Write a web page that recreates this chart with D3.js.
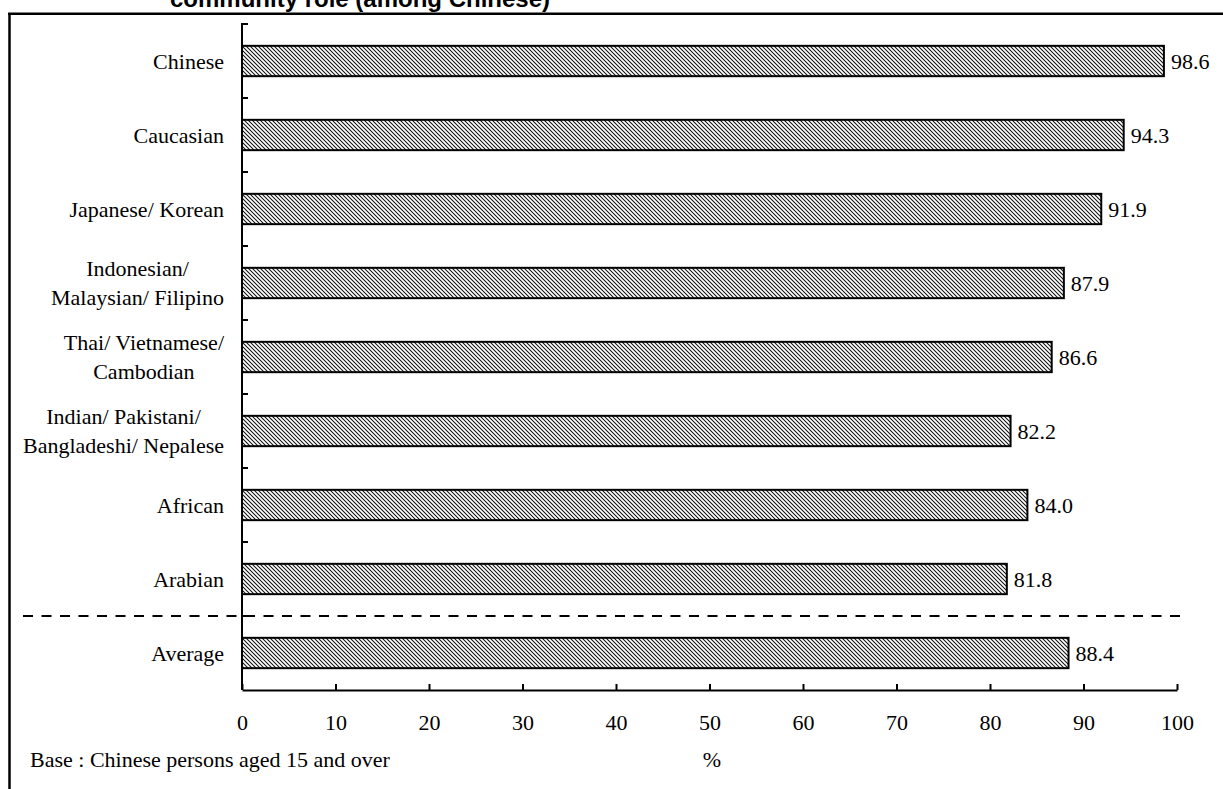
<!DOCTYPE html>
<html>
<head>
<meta charset="utf-8">
<script src="https://cdn.jsdelivr.net/npm/d3@7"></script>
<style>
  html, body { margin: 0; padding: 0; background: #fff; }
  svg { display: block; }
</style>
</head>
<body>
<svg id="chart" width="1223" height="789"></svg>
<script>
// Group labels (each entry is a list of text lines) and their shares in percent
const categories = [
  ["Chinese"],
  ["Caucasian"],
  ["Japanese/ Korean"],
  ["Indonesian/", "Malaysian/ Filipino"],
  ["Thai/ Vietnamese/", "Cambodian"],
  ["Indian/ Pakistani/", "Bangladeshi/ Nepalese"],
  ["African"],
  ["Arabian"],
  ["Average"]
];
const values = [98.6, 94.3, 91.9, 87.9, 86.6, 82.2, 84.0, 81.8, 88.4];
const xTicks = [0, 10, 20, 30, 40, 50, 60, 70, 80, 90, 100];
const titleText = "community role (among Chinese)";
const baseNote = "Base : Chinese persons aged 15 and over";
const unitLabel = "%";

const keys = categories.map(c => c.join(" "));
const rows = keys.map((k, i) => ({ key: k, lines: categories[i], value: values[i] }));

const svg = d3.select("#chart");
const serif = "'Liberation Serif', 'Times New Roman', serif";

const plotLeft = 242, plotRight = 1177, plotTop = 24, plotBottom = 690;

const x = d3.scaleLinear().domain([0, 100]).range([plotLeft, plotRight]);
// bands for the bars, and plain slots for the category separators
const y = d3.scaleBand().domain(keys).range([plotTop, plotBottom]).paddingInner(0.59).paddingOuter(0.295);
const slot = d3.scaleBand().domain(keys).range([plotTop, plotBottom]).padding(0);

// hatch fill
const defs = svg.append("defs");
defs.append("pattern")
  .attr("id", "hatch")
  .attr("patternUnits", "userSpaceOnUse")
  .attr("width", 4).attr("height", 4)
  .append("path")
  .attr("d", "M-1,3 l2,2 M0,0 l4,4 M3,-1 l2,2")
  .attr("stroke", "#111")
  .attr("stroke-width", 1.05);

// frame (left and top edges)
svg.append("line").attr("x1", 9.5).attr("x2", 9.5).attr("y1", 13).attr("y2", 789)
  .attr("stroke", "#000").attr("stroke-width", 2.5);
svg.append("line").attr("x1", 8).attr("x2", 1223).attr("y1", 13.75).attr("y2", 13.75)
  .attr("stroke", "#000").attr("stroke-width", 2.5);

// title line
svg.append("text")
  .attr("x", 170).attr("y", 7)
  .attr("font-family", "'Liberation Sans', Arial, sans-serif")
  .attr("font-weight", "bold")
  .attr("font-size", 24)
  .attr("fill", "#000")
  .text(titleText);

// bars
svg.append("g").selectAll("rect")
  .data(rows)
  .join("rect")
  .attr("x", x(0))
  .attr("y", d => y(d.key))
  .attr("width", d => x(d.value) - x(0))
  .attr("height", y.bandwidth())
  .attr("fill", "url(#hatch)")
  .attr("stroke", "#000")
  .attr("stroke-width", 2);

// value labels
svg.append("g").selectAll("text")
  .data(rows)
  .join("text")
  .attr("x", d => x(d.value) + 7)
  .attr("y", d => y(d.key) + y.bandwidth() / 2 + 7.5)
  .attr("font-family", serif)
  .attr("font-size", 22)
  .attr("fill", "#000")
  .text(d => d.value.toFixed(1));

// category labels, multi-line ones centred on their widest line
const labelRight = 224;
const lineGap = 29;
const labels = svg.append("g")
  .attr("font-family", serif)
  .attr("font-size", 22)
  .attr("fill", "#000");
rows.forEach(d => {
  const g = labels.append("g");
  const cy = slot(d.key) + slot.bandwidth() / 2;
  const n = d.lines.length;
  const texts = d.lines.map((line, i) => g.append("text")
    .attr("y", cy + 7.5 + (i - (n - 1) / 2) * lineGap)
    .attr("text-anchor", "middle")
    .text(line));
  const widest = d3.max(texts, t => t.node().getComputedTextLength());
  texts.forEach(t => t.attr("x", labelRight - widest / 2));
});

// y axis with separators between categories
const yAxis = svg.append("g");
yAxis.append("line")
  .attr("x1", plotLeft).attr("x2", plotLeft).attr("y1", plotTop).attr("y2", plotBottom)
  .attr("stroke", "#000").attr("stroke-width", 2);
yAxis.selectAll("line.sep")
  .data(keys)
  .join("line")
  .attr("class", "sep")
  .attr("x1", plotLeft - 1).attr("x2", plotLeft + 6)
  .attr("y1", d => slot(d)).attr("y2", d => slot(d))
  .attr("stroke", "#000").attr("stroke-width", 2);

// x axis, ticks pointing up into the plot
const xAxis = svg.append("g")
  .attr("transform", `translate(0,${plotBottom})`)
  .call(d3.axisBottom(x).tickValues(xTicks).tickSizeInner(-6).tickSizeOuter(0).tickPadding(24.5));
xAxis.select(".domain").attr("stroke", "#000").attr("stroke-width", 2);
xAxis.selectAll(".tick line").attr("stroke", "#000").attr("stroke-width", 2);
xAxis.selectAll(".tick text")
  .attr("font-family", serif)
  .attr("font-size", 22)
  .attr("fill", "#000");

// dashed separator above the average
const sepY = slot(keys[keys.length - 1]);
svg.append("line")
  .attr("x1", 23).attr("x2", 1184)
  .attr("y1", sepY).attr("y2", sepY)
  .attr("stroke", "#000").attr("stroke-width", 2.2)
  .attr("stroke-dasharray", "10,8.5");

// footnote and unit
svg.append("text")
  .attr("x", 30).attr("y", 767)
  .attr("font-family", serif).attr("font-size", 22).attr("fill", "#000")
  .text(baseNote);
svg.append("text")
  .attr("x", 712).attr("y", 767)
  .attr("text-anchor", "middle")
  .attr("font-family", serif).attr("font-size", 22).attr("fill", "#000")
  .text(unitLabel);
</script>
</body>
</html>
